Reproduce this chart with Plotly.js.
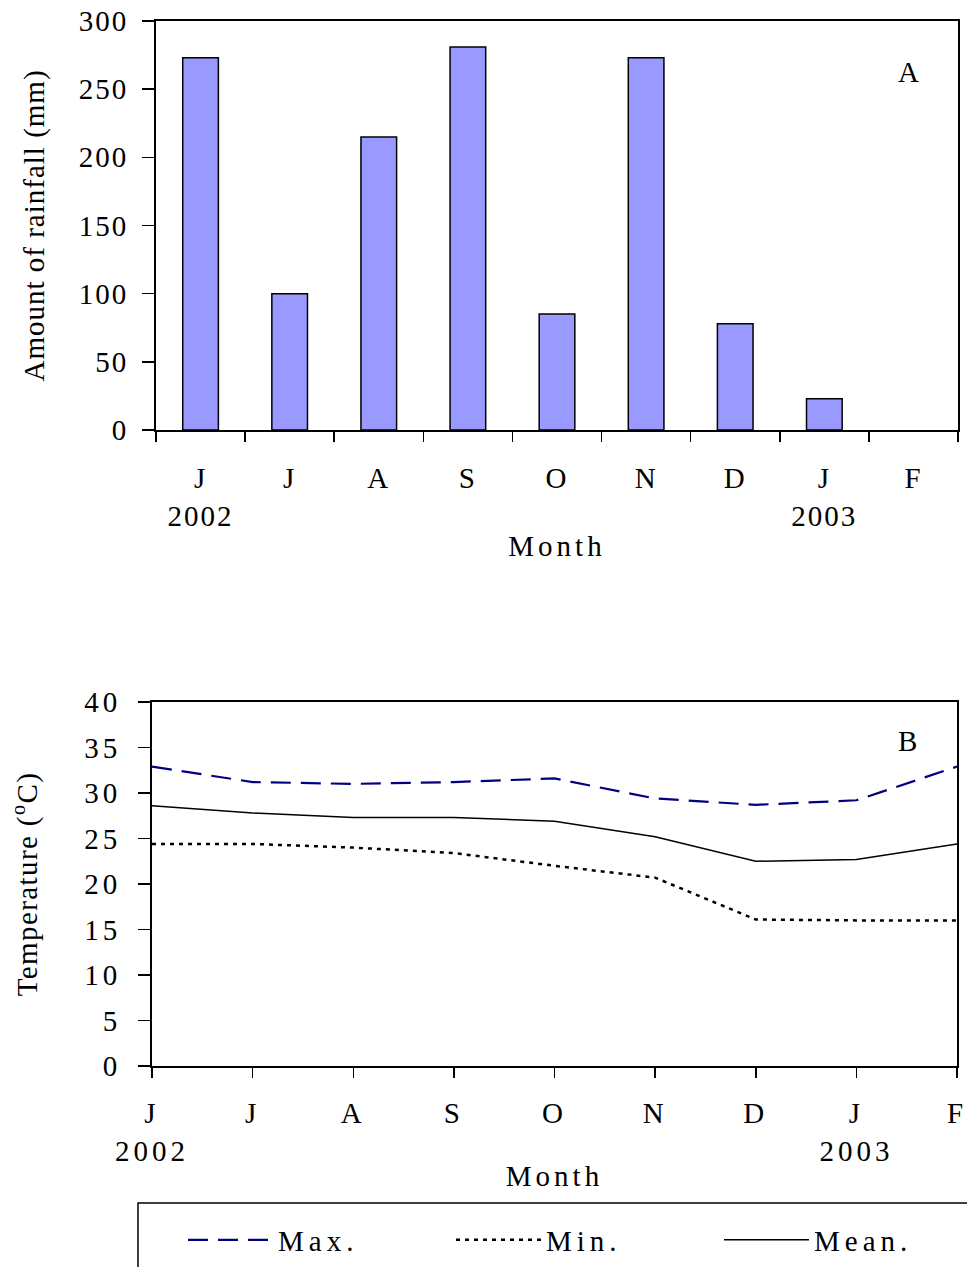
<!DOCTYPE html>
<html>
<head>
<meta charset="utf-8">
<script src="https://cdn.plot.ly/plotly-3.0.1.min.js"></script>
<style>
  html, body { margin: 0; padding: 0; background: #fff; }
  #chart { width: 967px; height: 1267px; }
  .legendtext { letter-spacing: 5px; }
  .xtitle, .x2title { letter-spacing: 4px; }
  .ytitle { letter-spacing: 1px; }
  .y2title { letter-spacing: 1.4px; }
  .x2tick text, .y2tick text { letter-spacing: 4px; }
  .xtick text, .ytick text { letter-spacing: 2px; }
</style>
</head>
<body>
<div id="chart"></div>
<script>
// ---- data ----
const months = ["J", "J", "A", "S", "O", "N", "D", "J", "F"];
const years = ["2002", "", "", "", "", "", "", "2003", ""];
const rainfall = [273, 100, 215, 281, 85, 273, 78, 23, 0];
const tempMax = [32.9, 31.2, 31.0, 31.2, 31.6, 29.4, 28.7, 29.2, 32.9];
const tempMin = [24.4, 24.4, 24.0, 23.4, 22.0, 20.7, 16.1, 16.0, 16.0];
const tempMean = [28.6, 27.8, 27.3, 27.3, 26.9, 25.2, 22.5, 22.7, 24.4];
const seriesNames = ["Max.", "Min.", "Mean."];

// category labels (month + year on second line where given)
const labels = months.map((m, i) => years[i] ? m + "<br>" + years[i] : m);

const W = 967, H = 1267;
const FONT = "Liberation Serif, Times New Roman, serif";
const fs = 29;

const traces = [
  {
    type: "bar", x: labels, y: rainfall, xaxis: "x", yaxis: "y",
    marker: { color: "#9999ff", line: { color: "#000", width: rainfall.map(v => v > 0 ? 1.5 : 0) } },
    showlegend: false, hoverinfo: "x+y"
  },
  {
    type: "scatter", mode: "lines", x: labels, y: tempMax, xaxis: "x2", yaxis: "y2",
    name: seriesNames[0], line: { color: "#000080", width: 2.2, dash: "20px,10px" }
  },
  {
    type: "scatter", mode: "lines", x: labels, y: tempMin, xaxis: "x2", yaxis: "y2",
    name: seriesNames[1], line: { color: "#000", width: 2.5, dash: "4px,5px" }
  },
  {
    type: "scatter", mode: "lines", x: labels, y: tempMean, xaxis: "x2", yaxis: "y2",
    name: seriesNames[2], line: { color: "#000", width: 1.5 }, legendwidth: 110
  }
];

const axisCommon = {
  showline: true, linecolor: "#000", linewidth: 2, mirror: true,
  ticks: "outside", tickcolor: "#000", tickwidth: 1.5,
  showgrid: false, zeroline: false, automargin: false,
  tickfont: { family: FONT, size: fs, color: "#000" },
  fixedrange: true
};

const layout = {
  width: W, height: H,
  margin: { l: 0, r: 0, t: 0, b: 0, autoexpand: false },
  paper_bgcolor: "#fff", plot_bgcolor: "#fff",
  font: { family: FONT, size: fs, color: "#000" },
  bargap: 0.6,
  showlegend: true,
  xaxis: Object.assign({}, axisCommon, {
    type: "category", domain: [156 / W, 958 / W], anchor: "y",
    range: [-0.5, 8.5], tickson: "boundaries", ticklen: 10,
    ticklabelstandoff: 21,
    title: { text: "Month", font: { family: FONT, size: fs }, standoff: 5 }
  }),
  yaxis: Object.assign({}, axisCommon, {
    domain: [1 - 430 / H, 1 - 21 / H], anchor: "x",
    range: [0, 300], dtick: 50, ticklen: 12, ticklabelstandoff: 8,
    title: { text: "Amount of rainfall (mm)", font: { family: FONT, size: fs }, standoff: 26 }
  }),
  xaxis2: Object.assign({}, axisCommon, {
    type: "category", domain: [152 / W, 957 / W], anchor: "y2",
    range: [0, 8], ticklen: 10, ticklabelstandoff: 10,
    title: { text: "Month", font: { family: FONT, size: fs }, standoff: 0 }
  }),
  yaxis2: Object.assign({}, axisCommon, {
    domain: [1 - 1066 / H, 1 - 702 / H], anchor: "x2",
    range: [0, 40], dtick: 5, ticklen: 12, ticklabelstandoff: 11,
    title: { text: "Temperature (<sup>o</sup>C)", font: { family: FONT, size: fs }, standoff: 38 }
  }),
  legend: {
    orientation: "h", x: 183 / W, xanchor: "left", y: 1 - 1240 / H, yanchor: "middle",
    bgcolor: "rgba(0,0,0,0)", borderwidth: 0,
    itemwidth: 85, entrywidth: 168, entrywidthmode: "pixels",
    font: { family: FONT, size: fs, color: "#000" }, traceorder: "normal"
  },
  shapes: [
    { type: "rect", xref: "paper", yref: "paper",
      x0: 138 / W, x1: 1.05, y0: -0.05, y1: 1 - 1203 / H,
      line: { color: "#000", width: 1.5 }, fillcolor: "rgba(0,0,0,0)" }
  ],
  annotations: [
    { text: "A", xref: "x domain", yref: "y domain", x: 0.938, y: 0.875,
      xanchor: "center", yanchor: "middle",
      showarrow: false, font: { family: FONT, size: fs } },
    { text: "B", xref: "x2 domain", yref: "y2 domain", x: 0.939, y: 0.893,
      xanchor: "center", yanchor: "middle",
      showarrow: false, font: { family: FONT, size: fs } }
  ]
};

Plotly.newPlot("chart", traces, layout, { displayModeBar: false, staticPlot: true });
</script>
</body>
</html>
